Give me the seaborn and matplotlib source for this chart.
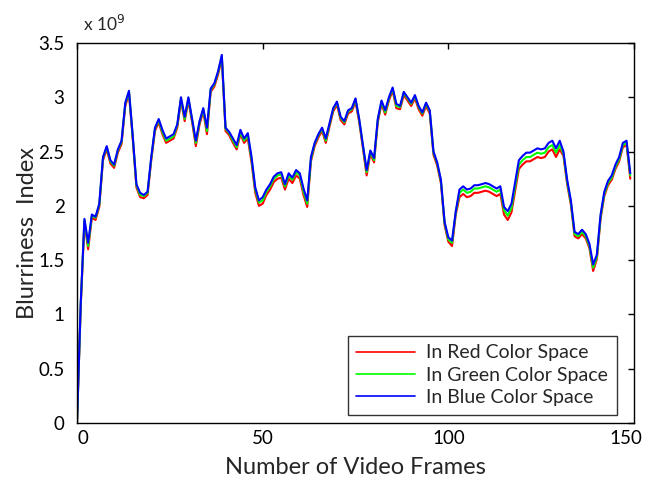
import numpy as np
import pandas as pd
import matplotlib
matplotlib.use("Agg")
import matplotlib.pyplot as plt
import matplotlib.transforms as mtransforms
import seaborn as sns

frames = list(range(0, 150))

blue = [0.00, 1.10, 1.88, 1.66, 1.92, 1.90, 2.02, 2.45, 2.55, 2.42,
        2.38, 2.52, 2.60, 2.95, 3.06, 2.65, 2.20, 2.12, 2.10, 2.13,
        2.45, 2.72, 2.80, 2.70, 2.62, 2.64, 2.66, 2.75, 3.00, 2.82,
        3.00, 2.80, 2.60, 2.78, 2.90, 2.72, 3.08, 3.13, 3.24, 3.39,
        2.72, 2.68, 2.62, 2.56, 2.70, 2.62, 2.67, 2.45, 2.17, 2.05,
        2.08, 2.15, 2.20, 2.27, 2.30, 2.31, 2.20, 2.30, 2.26, 2.33,
        2.30, 2.16, 2.05, 2.45, 2.58, 2.66, 2.72, 2.62, 2.76, 2.90,
        2.96, 2.82, 2.78, 2.88, 2.90, 2.99, 2.80, 2.56, 2.33, 2.51,
        2.44, 2.80, 2.97, 2.88, 3.00, 3.09, 2.94, 2.92, 3.05, 3.00,
        2.95, 3.02, 2.92, 2.86, 2.95, 2.88, 2.50, 2.40, 2.24, 1.85,
        1.71, 1.68, 1.95, 2.15, 2.18, 2.15, 2.16, 2.19, 2.19, 2.20,
        2.21, 2.20, 2.18, 2.16, 2.18, 1.99, 1.95, 2.02, 2.22, 2.42,
        2.46, 2.49, 2.49, 2.51, 2.53, 2.52, 2.53, 2.58, 2.60, 2.53,
        2.60, 2.50, 2.24, 2.05, 1.76, 1.74, 1.78, 1.74, 1.65, 1.46,
        1.55, 1.92, 2.13, 2.23, 2.28, 2.38, 2.45, 2.58, 2.60, 2.30]

green = [0.00, 1.09, 1.87, 1.63, 1.91, 1.89, 2.01, 2.44, 2.54, 2.41,
         2.37, 2.51, 2.59, 2.94, 3.05, 2.64, 2.19, 2.10, 2.09, 2.12,
         2.44, 2.71, 2.79, 2.68, 2.60, 2.62, 2.64, 2.74, 2.99, 2.80,
         2.99, 2.79, 2.58, 2.77, 2.89, 2.69, 3.07, 3.12, 3.23, 3.38,
         2.71, 2.67, 2.60, 2.54, 2.68, 2.60, 2.65, 2.43, 2.15, 2.03,
         2.05, 2.13, 2.18, 2.25, 2.28, 2.29, 2.18, 2.28, 2.24, 2.31,
         2.28, 2.13, 2.02, 2.43, 2.57, 2.65, 2.71, 2.60, 2.75, 2.89,
         2.95, 2.81, 2.77, 2.87, 2.89, 2.98, 2.79, 2.55, 2.31, 2.50,
         2.42, 2.79, 2.96, 2.86, 2.99, 3.08, 2.92, 2.91, 3.04, 2.99,
         2.94, 3.01, 2.91, 2.85, 2.94, 2.87, 2.49, 2.39, 2.23, 1.84,
         1.69, 1.66, 1.94, 2.12, 2.15, 2.12, 2.13, 2.16, 2.16, 2.17,
         2.18, 2.17, 2.15, 2.13, 2.15, 1.96, 1.91, 1.98, 2.18, 2.38,
         2.42, 2.45, 2.45, 2.47, 2.49, 2.48, 2.49, 2.54, 2.56, 2.49,
         2.56, 2.48, 2.22, 2.03, 1.74, 1.72, 1.76, 1.72, 1.63, 1.43,
         1.53, 1.90, 2.11, 2.21, 2.26, 2.36, 2.43, 2.56, 2.58, 2.28]

red = [0.00, 1.07, 1.85, 1.60, 1.89, 1.87, 1.99, 2.42, 2.52, 2.39,
       2.35, 2.49, 2.57, 2.92, 3.03, 2.62, 2.17, 2.08, 2.07, 2.10,
       2.42, 2.69, 2.77, 2.66, 2.58, 2.60, 2.62, 2.72, 2.97, 2.78,
       2.97, 2.77, 2.55, 2.75, 2.87, 2.66, 3.05, 3.10, 3.21, 3.36,
       2.69, 2.65, 2.58, 2.52, 2.66, 2.58, 2.62, 2.40, 2.12, 2.00,
       2.02, 2.10, 2.15, 2.22, 2.25, 2.26, 2.15, 2.25, 2.21, 2.28,
       2.25, 2.10, 1.99, 2.41, 2.55, 2.63, 2.69, 2.58, 2.73, 2.87,
       2.93, 2.79, 2.75, 2.85, 2.87, 2.96, 2.77, 2.53, 2.28, 2.48,
       2.40, 2.77, 2.94, 2.84, 2.97, 3.06, 2.90, 2.89, 3.02, 2.97,
       2.92, 2.99, 2.89, 2.83, 2.92, 2.85, 2.47, 2.37, 2.21, 1.82,
       1.67, 1.63, 1.92, 2.08, 2.11, 2.08, 2.09, 2.12, 2.12, 2.13,
       2.14, 2.13, 2.11, 2.09, 2.11, 1.92, 1.87, 1.94, 2.14, 2.34,
       2.38, 2.41, 2.41, 2.43, 2.45, 2.44, 2.45, 2.50, 2.52, 2.45,
       2.52, 2.46, 2.20, 2.01, 1.72, 1.70, 1.74, 1.70, 1.61, 1.40,
       1.51, 1.88, 2.09, 2.19, 2.24, 2.34, 2.41, 2.54, 2.56, 2.25]

series_names = ["In Red Color Space", "In Green Color Space", "In Blue Color Space"]
series_colors = ["#ff0000", "#00ff00", "#0000ff"]
x_ticks = [0, 50, 100, 150]
y_ticks = [0, 0.5, 1, 1.5, 2, 2.5, 3, 3.5]
y_tick_labels = ["0", "0.5", "1", "1.5", "2", "2.5", "3", "3.5"]

df = pd.concat([
    pd.DataFrame({"frame": frames, "value": vals, "series": name})
    for name, vals in zip(series_names, [red, green, blue])
], ignore_index=True)

sns.set_theme(style="white")
plt.rcParams["font.family"] = ["Lato", "DejaVu Sans"]

fig = plt.figure(figsize=(6.57, 4.84), dpi=100)
ax = fig.add_axes([77 / 657, 1 - 423 / 484, (634 - 77) / 657, (423 - 43) / 484])

sns.lineplot(data=df, x="frame", y="value", hue="series", hue_order=series_names,
             palette=series_colors, linewidth=1.5, ax=ax, estimator=None, sort=False)

ax.set_xlim(0, 150)
ax.set_ylim(0, 3.5)
ax.set_xticks(x_ticks)
ax.set_xticklabels([str(t) for t in x_ticks])
ax.set_yticks(y_ticks)
ax.set_yticklabels(y_tick_labels)
ax.tick_params(direction="in", length=4, width=1, top=True, right=True,
               labelsize=13.5, colors="black")
ax.tick_params(axis="y", pad=9)
ax.tick_params(axis="x", pad=5)
for s in ax.spines.values():
    s.set_visible(True)
    s.set_color("black")
    s.set_linewidth(1.0)

# shift end x tick labels inward as in the reference rendering
xlabels = ax.get_xticklabels()
xlabels[0].set_transform(xlabels[0].get_transform() +
                         mtransforms.ScaledTranslation(6 / 100, 0, fig.dpi_scale_trans))
xlabels[-1].set_transform(xlabels[-1].get_transform() +
                          mtransforms.ScaledTranslation(-8 / 100, 0, fig.dpi_scale_trans))

ax.set_xlabel("Number of Video Frames", fontsize=17, labelpad=7)
ax.set_ylabel("Blurriness  Index", fontsize=17, labelpad=0)
ax.text(0.01, 1.025, "x 10$^{9}$", transform=ax.transAxes, fontsize=12.5,
        ha="left", va="bottom")

leg = ax.legend(loc="lower right", bbox_to_anchor=(0.9695, 0.021), borderaxespad=0,
                fontsize=14, frameon=True, fancybox=False, edgecolor="black",
                handlelength=3.0, handletextpad=0.6, labelspacing=0.28,
                borderpad=0.45)
leg.get_frame().set_linewidth(1.0)
for h in leg.get_lines():
    h.set_linewidth(1.2)

fig.savefig("out.png", dpi=100, facecolor="white")
